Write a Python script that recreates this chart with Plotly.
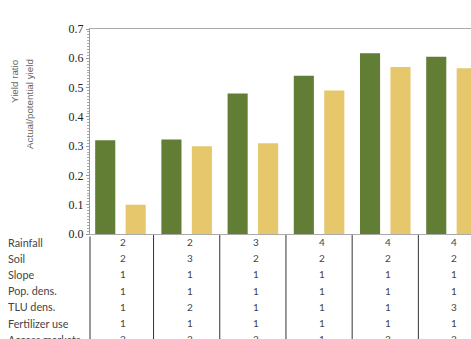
import plotly.graph_objects as go

categories = ["S1", "S2", "S3", "S4", "S5", "S6"]
actual_green = [0.32, 0.323, 0.48, 0.54, 0.617, 0.605]
ratio_yellow = [0.10, 0.30, 0.31, 0.49, 0.57, 0.566]

row_labels = ["Rainfall", "Soil", "Slope", "Pop. dens.", "TLU dens.",
              "Fertilizer use", "Access markets"]
table_values = [
    [2, 2, 3, 4, 4, 4],
    [2, 3, 2, 2, 2, 2],
    [1, 1, 1, 1, 1, 1],
    [1, 1, 1, 1, 1, 1],
    [1, 2, 1, 1, 1, 3],
    [1, 1, 1, 1, 1, 1],
    [3, 3, 3, 1, 3, 3],
]
y_ticks = [0.0, 0.1, 0.2, 0.3, 0.4, 0.5, 0.6, 0.7]

GREEN = "#617e34"
YELLOW = "#e6c76b"

W, H = 471, 339
ML, MR, MT, MB = 90, 0, 29, 105
plot_h = H - MT - MB
plot_w = W - ML - MR

xs = list(range(len(categories)))

fig = go.Figure()
fig.add_trace(go.Bar(x=xs, y=actual_green, marker_color=GREEN,
                     marker_line_width=0, showlegend=False))
fig.add_trace(go.Bar(x=xs, y=ratio_yellow, marker_color=YELLOW,
                     marker_line_width=0, showlegend=False))

annotations = []
row_gap = 16.2
first_row_px = 8
for r, (lab, vals) in enumerate(zip(row_labels, table_values)):
    ypaper = -(first_row_px + r * row_gap) / plot_h
    annotations.append(dict(
        x=-(ML - 6) / plot_w, y=ypaper, xref="paper", yref="paper",
        text=lab, showarrow=False, xanchor="left", yanchor="middle",
        font=dict(family="Lato", size=10.8, color="#444")))
    for i, v in enumerate(vals):
        annotations.append(dict(
            x=xs[i], y=ypaper, xref="x", yref="paper", xshift=3,
            text=str(v), showarrow=False, xanchor="center", yanchor="middle",
            font=dict(family="Lato", size=10, color="#444")))

# y-axis titles
annotations.append(dict(
    x=-(ML - 14) / plot_w, y=(H - MB - 57) / plot_h, xref="paper", yref="paper",
    text="Yield ratio", textangle=-90, showarrow=False,
    xanchor="center", yanchor="top",
    font=dict(family="Liberation Sans", size=9.8, color="#666")))
annotations.append(dict(
    x=-(ML - 29) / plot_w, y=(H - MB - 57) / plot_h, xref="paper", yref="paper",
    text="Actual/potential yield", textangle=-90, showarrow=False,
    xanchor="center", yanchor="top",
    font=dict(family="Liberation Sans", size=9.8, color="#666")))

shapes = []
for i in range(len(categories) - 1):
    shapes.append(dict(type="line", xref="x", yref="paper",
                       x0=xs[i] + 0.5, x1=xs[i] + 0.5, y0=-0.005, y1=-0.6,
                       line=dict(color="#333", width=1)))
shapes.append(dict(type="line", xref="paper", yref="paper",
                   x0=0, x1=0, y0=-0.012, y1=-0.6,
                   line=dict(color="#999", width=2)))

fig.update_layout(
    width=W, height=H,
    margin=dict(l=ML, r=MR, t=MT, b=MB, pad=0),
    paper_bgcolor="white", plot_bgcolor="white",
    barmode="group", bargap=0.08, bargroupgap=0.34,
    xaxis=dict(range=[-0.46, 5.295], showticklabels=False, ticks="",
               showgrid=False, zeroline=False, showline=True,
               linecolor="#aaa", linewidth=1, mirror=True),
    yaxis=dict(range=[0, 0.7], tickvals=y_ticks,
               ticktext=[f"{t:.1f}" for t in y_ticks],
               showgrid=False, zeroline=False, showline=True,
               linecolor="#999", linewidth=1,
               ticks="outside", ticklen=3, tickcolor="#999",
               minor=dict(dtick=0.01, ticks="outside", ticklen=2, tickcolor="#aaa"),
               tickfont=dict(family="Liberation Serif", size=12, color="#222")),
    annotations=annotations,
    shapes=shapes,
)

fig.write_html("out.html")
